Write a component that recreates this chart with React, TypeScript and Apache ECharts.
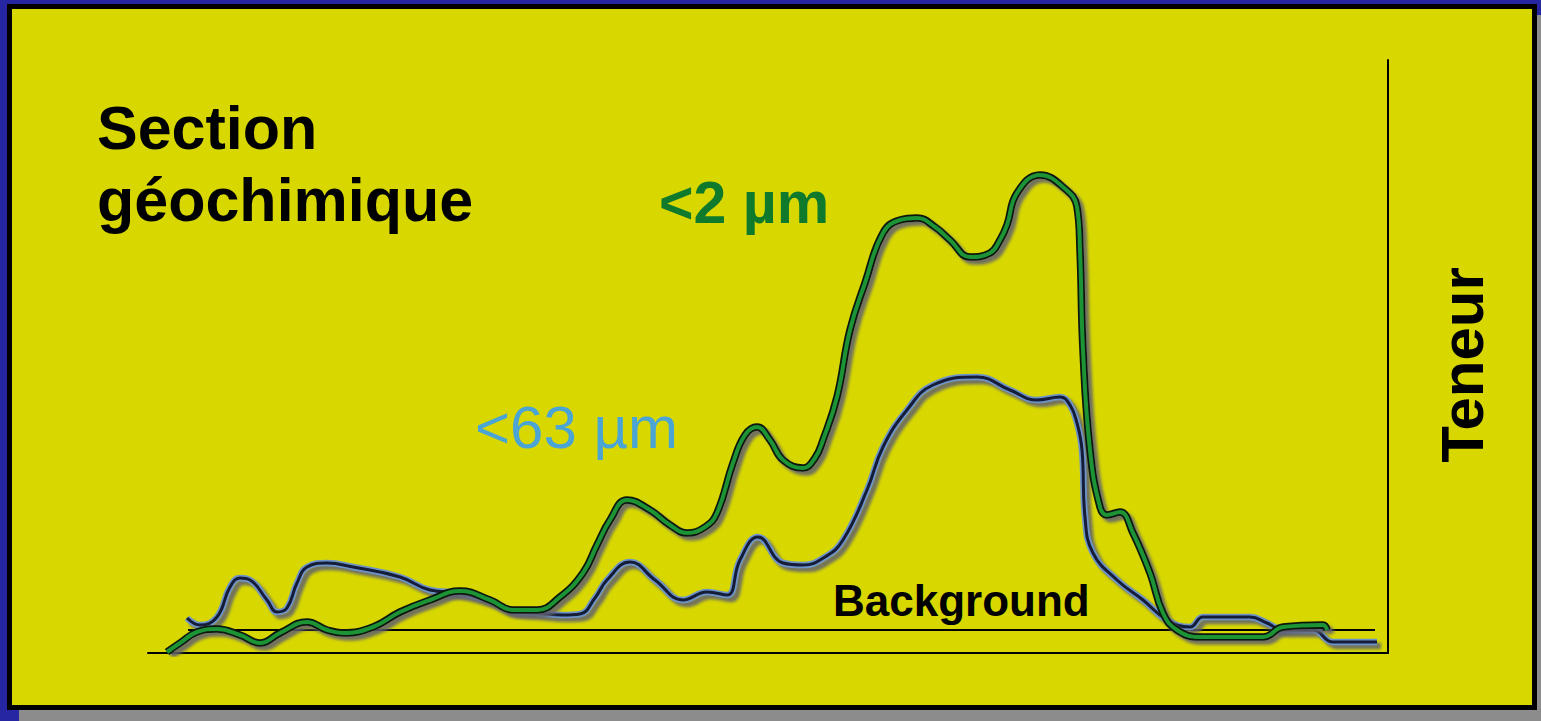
import React, { useEffect, useRef } from "react";
import * as echarts from "echarts";

// Distance along the section (arbitrary units) and Teneur (arbitrary units)
const fine2um: [number, number][] = [
  [1.9, 0.2], [3.2, 2.0], [4.9, 4.2], [6.9, 4.8], [9.2, 3.6], [11.2, 2.0], [13.2, 4.0],
  [15.9, 6.2], [17.9, 4.6], [19.5, 4.0], [22.5, 5.2], [25.2, 8.2], [28.2, 10.6], [31.2, 12.4],
  [34.2, 10.6], [36.5, 8.6], [38.9, 8.6], [41.2, 11.2], [43.5, 16.0], [44.9, 21.6], [46.2, 26.6],
  [47.9, 30.6], [50.2, 28.6], [52.2, 25.6], [53.9, 24.0], [55.7, 25.2], [56.9, 28.0], [58.5, 38.0],
  [59.7, 43.6], [60.9, 45.2], [62.2, 42.6], [63.5, 38.6], [65.5, 37.0], [66.7, 39.0], [67.5, 42.6],
  [68.9, 51.2], [70.2, 64.6], [71.7, 74.0], [73.5, 84.0], [75.2, 86.6], [76.9, 87.0], [78.7, 85.2],
  [80.2, 82.6], [82.2, 79.2], [84.2, 80.0], [85.2, 82.6], [85.9, 85.6], [86.9, 92.0], [89.2, 95.6],
  [91.5, 93.2], [92.9, 89.2], [93.2, 80.6], [93.5, 60.6], [94.2, 40.6], [95.2, 29.2], [95.9, 27.6],
  [97.2, 28.2], [98.5, 24.0], [100.2, 16.0], [101.5, 8.0], [102.9, 4.6], [105.2, 3.2], [111.5, 3.2],
  [113.5, 5.2], [117.5, 5.6], [117.9, 4.6],
];

const coarse63um: [number, number][] = [
  [3.9, 7.0], [5.2, 5.6], [6.9, 7.2], [8.2, 13.2], [9.2, 15.0], [10.2, 14.6], [11.9, 10.6],
  [12.9, 8.2], [13.9, 9.0], [14.9, 14.0], [15.9, 17.2], [17.9, 18.0], [20.5, 17.2], [25.2, 15.2],
  [28.2, 12.6], [31.2, 12.0], [34.2, 10.4], [36.5, 8.4], [38.9, 8.0], [41.5, 7.6], [43.2, 7.8],
  [44.7, 11.0], [45.9, 14.6], [48.2, 18.2], [50.7, 14.6], [53.5, 10.6], [55.9, 12.2], [57.9, 11.6],
  [59.2, 18.6], [61.0, 23.2], [63.5, 18.0], [65.5, 17.6], [67.7, 19.2], [69.5, 22.6], [71.9, 32.6],
  [73.5, 41.2], [75.9, 48.6], [78.5, 53.6], [82.9, 55.2], [86.2, 52.6], [88.9, 50.6], [91.2, 51.2],
  [92.2, 49.6], [92.9, 46.0], [93.4, 40.6], [93.7, 27.2], [94.5, 20.0], [96.9, 14.6], [99.5, 10.6],
  [101.9, 6.6], [104.2, 5.2], [105.5, 7.2], [110.2, 7.2], [111.9, 6.0], [113.5, 4.6], [116.5, 4.6],
  [118.5, 2.2], [122.9, 2.2],
];

const backgroundLevel = 4.6;
const backgroundRange = [4.0, 122.7];

const titleLines = ["Section", "géochimique"];
const label2 = "<2 µm";
const label63 = "<63 µm";
const labelBackground = "Background";
const yAxisName = "Teneur";

export default function App() {
  const ref = useRef<HTMLDivElement>(null);

  useEffect(() => {
    if (!ref.current) return;
    const chart = echarts.init(ref.current, null, { renderer: "svg" });
    const font = "'Liberation Sans', Arial, sans-serif";
    const shadow = {
      shadowColor: "rgba(95,95,110,0.85)",
      shadowBlur: 3,
      shadowOffsetX: 4,
      shadowOffsetY: 4,
    };
    const smooth = 0.45;
    chart.setOption({
      animation: false,
      backgroundColor: "#2626a2",
      grid: { left: 148, right: 153, top: 60, bottom: 68 },
      xAxis: {
        type: "value",
        min: 0,
        max: 124,
        axisLine: { show: true, lineStyle: { color: "#000", width: 2 } },
        axisTick: { show: false },
        axisLabel: { show: false },
        splitLine: { show: false },
      },
      yAxis: {
        type: "value",
        position: "right",
        min: 0,
        max: 118.6,
        axisLine: { show: true, onZero: false, lineStyle: { color: "#000", width: 2 } },
        axisTick: { show: false },
        axisLabel: { show: false },
        splitLine: { show: false },
      },
      graphic: [
        {
          type: "rect",
          z: -10,
          shape: { x: 19, y: 15, width: 1530, height: 710 },
          style: { fill: "#8c8c8c" },
          silent: true,
        },
        {
          type: "rect",
          z: -9,
          shape: { x: 9.5, y: 6.5, width: 1525, height: 701 },
          style: { fill: "#d8d800", stroke: "#000", lineWidth: 5 },
          silent: true,
        },
        {
          type: "text",
          z: 100,
          x: 97,
          y: 128,
          style: { text: titleLines[0], font: `bold 61px ${font}`, fill: "#000", textAlign: "left", textVerticalAlign: "middle" },
        },
        {
          type: "text",
          z: 100,
          x: 97,
          y: 200,
          style: { text: titleLines[1], font: `bold 61px ${font}`, fill: "#000", textAlign: "left", textVerticalAlign: "middle" },
        },
        {
          type: "text",
          z: 100,
          x: 659,
          y: 203,
          style: { text: label2, font: `bold 59px ${font}`, fill: "#0f7a2c", textAlign: "left", textVerticalAlign: "middle" },
        },
        {
          type: "text",
          z: 100,
          x: 475,
          y: 427,
          style: { text: label63, font: `60px ${font}`, fill: "#4aa4d4", textAlign: "left", textVerticalAlign: "middle" },
        },
        {
          type: "text",
          z: 100,
          x: 833,
          y: 600,
          style: { text: labelBackground, font: `bold 44px ${font}`, fill: "#000", textAlign: "left", textVerticalAlign: "middle" },
        },
        {
          type: "text",
          z: 100,
          x: 1462,
          y: 365,
          rotation: Math.PI / 2,
          style: { text: yAxisName, font: `bold 60px ${font}`, fill: "#000", textAlign: "center", textVerticalAlign: "middle" },
        },
      ],
      series: [
        {
          name: "Background",
          type: "line",
          data: [
            [backgroundRange[0], backgroundLevel],
            [backgroundRange[1], backgroundLevel],
          ],
          symbol: "none",
          silent: true,
          lineStyle: { color: "#000", width: 2 },
        },
        {
          name: "<63 µm halo",
          type: "line",
          data: coarse63um,
          symbol: "none",
          smooth,
          silent: true,
          lineStyle: { color: "#6d93c9", width: 6.5, ...shadow },
        },
        {
          name: "<63 µm",
          type: "line",
          data: coarse63um,
          symbol: "none",
          smooth,
          silent: true,
          lineStyle: { color: "#141c38", width: 3 },
        },
        {
          name: "<2 µm halo",
          type: "line",
          data: fine2um,
          symbol: "none",
          smooth,
          silent: true,
          lineStyle: { color: "#0a160c", width: 7.5, ...shadow },
        },
        {
          name: "<2 µm",
          type: "line",
          data: fine2um,
          symbol: "none",
          smooth,
          silent: true,
          lineStyle: { color: "#1c9436", width: 4 },
        },
      ],
    });
    return () => chart.dispose();
  }, []);

  return (
    <div
      ref={ref}
      style={{ position: "fixed", left: 0, top: 0, width: 1541, height: 721 }}
    />
  );
}
